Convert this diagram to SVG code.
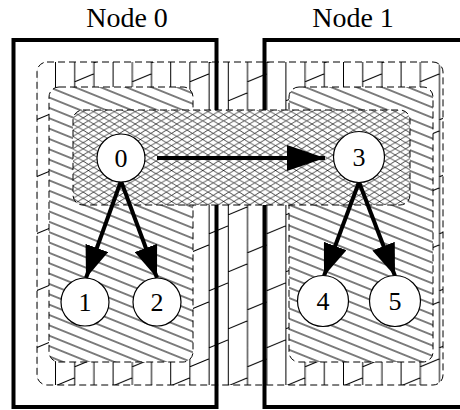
<svg xmlns="http://www.w3.org/2000/svg" width="460" height="410" viewBox="0 0 460 410">
  <style>
    .lbl { font-family: "Liberation Serif", "Times New Roman", serif; font-size: 28px; fill: #000; text-anchor: middle; }
    .num { font-family: "Liberation Serif", "Times New Roman", serif; font-size: 26px; fill: #000; text-anchor: middle; }
    .box { fill: none; stroke: #000; stroke-width: 4; }
    .dash { stroke: #000; stroke-width: 1; stroke-dasharray: 7 4; }
    .node circle { fill: #fff; stroke: #000; stroke-width: 1.2; }
    .edge { stroke: #000; stroke-width: 4; fill: none; marker-end: url(#head); }
    .edge.long { marker-end: url(#headL); }
    .pl { stroke: #000; stroke-width: 1; fill: none; }
  </style>
  <defs>
    <!-- vertical shingles: columns 19.2 wide, staggered diagonals -->
    <pattern id="shingles" patternUnits="userSpaceOnUse" x="55" y="0" width="57.6" height="57">
      <rect width="57.6" height="57" fill="#fff"/>
      <path class="pl" d="M0.5 0V57M19.7 0V57M38.9 0V57
                          M0 44L19.2 36
                          M19.2 25L38.4 17
                          M38.4 6L57.6 -2M38.4 63L57.6 55"/>
    </pattern>
    <!-- single hatch, lines falling to the right -->
    <pattern id="hatch" patternUnits="userSpaceOnUse" width="20" height="9.6" patternTransform="rotate(22)">
      <rect width="20" height="9.6" fill="#fff"/>
      <path class="pl" d="M0 4.8H20"/>
    </pattern>
    <!-- diamond crosshatch -->
    <pattern id="cross" patternUnits="userSpaceOnUse" x="0" y="0" width="10.4" height="6.2">
      <rect width="10.4" height="6.2" fill="#fff"/>
      <path stroke="#000" stroke-width="0.7" fill="none" d="M0 0L10.4 6.2M0 6.2L10.4 0"/>
    </pattern>
    <marker id="head" markerUnits="userSpaceOnUse" viewBox="0 0 32 24" refX="32" refY="12" markerWidth="32" markerHeight="24" orient="auto">
      <path d="M0 0L32 12L0 24Z" fill="#000"/>
    </marker>
    <marker id="headL" markerUnits="userSpaceOnUse" viewBox="0 0 38 26" refX="38" refY="13" markerWidth="38" markerHeight="26" orient="auto">
      <path d="M0 0L38 13L0 26Z" fill="#000"/>
    </marker>
  </defs>

  <!-- outer cluster -->
  <rect id="cluster-all" class="dash" x="37" y="62" width="406" height="323" rx="10" fill="url(#shingles)"/>

  <!-- machine boxes -->
  <g id="node0-box">
    <rect class="box" x="13.5" y="40" width="203" height="367"/>
    <text class="lbl" x="127" y="27">Node 0</text>
  </g>
  <g id="node1-box">
    <rect class="box" x="264.5" y="40" width="220" height="367"/>
    <text class="lbl" x="353" y="27">Node 1</text>
  </g>

  <!-- per-machine clusters -->
  <rect id="cluster-0" class="dash" x="49" y="87" width="144" height="275" rx="10" fill="url(#hatch)"/>
  <rect id="cluster-1" class="dash" x="289" y="87" width="144" height="275" rx="10" fill="url(#hatch)"/>

  <!-- shared cluster across machines -->
  <rect id="cluster-top" class="dash" x="73" y="110" width="337" height="95" rx="10" fill="url(#cross)"/>

  <g id="edges">
    <line class="edge long" x1="157" y1="158" x2="325" y2="158"/>
    <line class="edge" x1="121" y1="181" x2="86" y2="278"/>
    <line class="edge" x1="121" y1="181" x2="157" y2="278"/>
    <line class="edge" x1="359" y1="182" x2="324" y2="276"/>
    <line class="edge" x1="359" y1="182" x2="395" y2="276"/>
  </g>

  <g id="n0" class="node"><circle cx="121" cy="158" r="24"/><text class="num" x="121" y="167">0</text></g>
  <g id="n1" class="node"><circle cx="85" cy="302" r="24"/><text class="num" x="85" y="311">1</text></g>
  <g id="n2" class="node"><circle cx="157" cy="302" r="24"/><text class="num" x="157" y="311">2</text></g>
  <g id="n3" class="node"><circle cx="359" cy="157" r="25.5"/><text class="num" x="359" y="166">3</text></g>
  <g id="n4" class="node"><circle cx="323" cy="301" r="25.5"/><text class="num" x="323" y="310">4</text></g>
  <g id="n5" class="node"><circle cx="395" cy="301" r="25.5"/><text class="num" x="395" y="310">5</text></g>
</svg>
